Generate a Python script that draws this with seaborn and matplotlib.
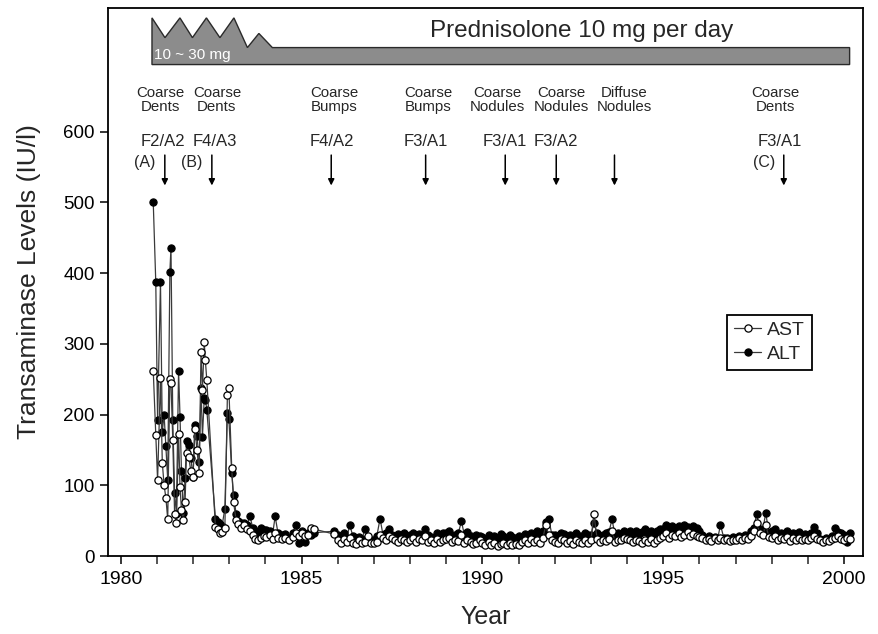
import numpy as np
import pandas as pd
import matplotlib
matplotlib.use("Agg")
import matplotlib.pyplot as plt
import seaborn as sns

# ---------------- data ----------------
years = [
    1980.90, 1980.97, 1981.02, 1981.10, 1981.15, 1981.20, 1981.25, 1981.30, 1981.36, 1981.39,
    1981.44, 1981.49, 1981.54, 1981.60, 1981.64, 1981.68, 1981.73, 1981.78, 1981.82, 1981.88,
    1981.94, 1982.00, 1982.05, 1982.11, 1982.17, 1982.22, 1982.26, 1982.31, 1982.34, 1982.38,
    1982.62, 1982.68, 1982.74, 1982.80, 1982.88, 1982.95, 1982.99, 1983.07, 1983.12, 1983.19,
    1983.25, 1983.33, 1983.42, 1983.50, 1983.57, 1983.65, 1983.72, 1983.80, 1983.88, 1983.95,
    1984.03, 1984.12, 1984.20, 1984.27, 1984.35, 1984.45, 1984.55, 1984.65, 1984.75, 1984.85, 1984.93,
    1985.02, 1985.10, 1985.18, 1985.27, 1985.35, 1985.90,
    1986.00, 1986.08, 1986.17, 1986.25, 1986.33, 1986.42, 1986.50, 1986.58, 1986.67, 1986.75, 1986.83, 1986.92,
    1987.00, 1987.08, 1987.17, 1987.25, 1987.33, 1987.42, 1987.50, 1987.58, 1987.67, 1987.75, 1987.83, 1987.92,
    1988.00, 1988.08, 1988.17, 1988.25, 1988.33, 1988.42, 1988.50, 1988.58, 1988.67, 1988.75, 1988.83, 1988.92,
    1989.00, 1989.08, 1989.17, 1989.25, 1989.33, 1989.42, 1989.50, 1989.58, 1989.67, 1989.75, 1989.83, 1989.92,
    1990.00, 1990.08, 1990.17, 1990.25, 1990.33, 1990.42, 1990.50, 1990.58, 1990.67, 1990.75, 1990.83, 1990.92,
    1991.00, 1991.08, 1991.17, 1991.25, 1991.33, 1991.42, 1991.50, 1991.58, 1991.67, 1991.75, 1991.83, 1991.92,
    1992.00, 1992.08, 1992.17, 1992.25, 1992.33, 1992.42, 1992.50, 1992.58, 1992.67, 1992.75, 1992.83, 1992.92,
    1993.00, 1993.08, 1993.17, 1993.25, 1993.33, 1993.42, 1993.50, 1993.58, 1993.67, 1993.75, 1993.83, 1993.92,
    1994.00, 1994.08, 1994.17, 1994.25, 1994.33, 1994.42, 1994.50, 1994.58, 1994.67, 1994.75, 1994.83, 1994.92,
    1995.00, 1995.08, 1995.17, 1995.25, 1995.33, 1995.42, 1995.50, 1995.58, 1995.67, 1995.75, 1995.83, 1995.92,
    1996.00, 1996.08, 1996.17, 1996.25, 1996.33, 1996.42, 1996.50, 1996.58, 1996.67, 1996.75, 1996.83, 1996.92,
    1997.00, 1997.08, 1997.17, 1997.25, 1997.33, 1997.42, 1997.50, 1997.58, 1997.67, 1997.75, 1997.83, 1997.92,
    1998.00, 1998.08, 1998.17, 1998.25, 1998.33, 1998.42, 1998.50, 1998.58, 1998.67, 1998.75, 1998.83, 1998.92,
    1999.00, 1999.08, 1999.17, 1999.25, 1999.33, 1999.42, 1999.50, 1999.58, 1999.67, 1999.75, 1999.83, 1999.92,
    2000.00, 2000.08, 2000.17,
]

ast = [
    262, 171, 107, 252, 132, 100, 82, 52, 251, 245,
    164, 60, 46, 173, 98, 65, 51, 77, 146, 140,
    120, 112, 180, 150, 118, 289, 235, 302, 277, 249,
    41, 38, 33, 34, 40, 228, 237, 124, 76, 51,
    45, 40, 44, 38, 36, 30, 24, 22, 26, 28,
    27, 30, 24, 32, 25, 24, 26, 22, 27, 32, 28,
    32, 28, 30, 40, 38, 31,
    22, 18, 24, 20, 26, 18, 17, 22, 18, 20, 28, 18,
    18, 20, 30, 25, 22, 28, 25, 22, 20, 24, 22, 20,
    22, 25, 20, 24, 22, 28, 20, 23, 18, 24, 20, 22,
    24, 26, 20, 22, 21, 30, 18, 22, 20, 17, 19, 22,
    18, 15, 20, 16, 18, 14, 17, 19, 15, 18, 16, 17,
    16, 20, 22, 18, 24, 20, 22, 18, 25, 44, 30, 22,
    20, 18, 24, 22, 19, 21, 17, 23, 20, 18, 22, 19,
    22, 60, 24, 20, 22, 21, 24, 35, 20, 23, 22, 25,
    24, 22, 20, 23, 21, 19, 22, 20, 24, 18, 22, 25,
    28, 32, 26, 30, 28, 33, 27, 30, 34, 28, 31, 29,
    27, 25, 22, 24, 21, 25, 23, 26, 22, 24, 21, 23,
    22, 25, 23, 26, 24, 28, 35, 46, 32, 30, 44, 27,
    25, 28, 22, 26, 24, 27, 21, 25, 23, 26, 22, 24,
    22, 25, 28, 24, 22, 20, 23, 21, 24, 26, 28, 24,
    22, 25, 24,
]

alt = [
    500, 387, 192, 387, 176, 200, 155, 108, 402, 436,
    192, 89, 60, 262, 197, 120, 61, 110, 162, 157,
    138, 112, 185, 170, 133, 237, 169, 223, 221, 207,
    53, 48, 45, 42, 67, 202, 194, 118, 86, 60,
    50, 47, 46, 44, 57, 40, 35, 34, 39, 37,
    37, 35, 31, 56, 32, 30, 31, 25, 33, 44, 18,
    35, 20, 33, 30, 33, 35,
    30, 27, 33, 25, 44, 28, 25, 27, 24, 38, 26, 22,
    22, 28, 53, 30, 32, 38, 30, 27, 31, 29, 33, 28,
    30, 32, 28, 31, 29, 38, 30, 27, 25, 33, 30, 32,
    33, 35, 28, 30, 32, 49, 30, 34, 28, 26, 30, 29,
    27, 24, 30, 26, 29, 25, 31, 28, 24, 30, 27, 26,
    28, 25, 31, 27, 33, 30, 35, 31, 36, 48, 53, 30,
    30, 28, 33, 31, 26, 30, 27, 32, 29, 28, 33, 30,
    30, 46, 32, 28, 30, 33, 34, 52, 29, 33, 31, 35,
    33, 35, 30, 36, 31, 34, 38, 33, 36, 30, 35, 38,
    38, 44, 36, 42, 40, 43, 38, 44, 41, 39, 42, 40,
    36, 30, 26, 28, 25, 27, 24, 44, 26, 25, 23, 27,
    26, 28, 24, 30, 27, 35, 40, 59, 38, 36, 61, 33,
    35, 38, 30, 33, 31, 36, 28, 32, 30, 34, 27, 31,
    30, 33, 41, 32, 24, 22, 26, 23, 29, 39, 34, 32,
    30, 20, 32,
]

# biopsy annotations
biopsy_years = [1981.22, 1982.52, 1985.82, 1988.43, 1990.63, 1992.04, 1993.65, 1998.33]
findings = ["Coarse\nDents", "Coarse\nDents", "Coarse\nBumps", "Coarse\nBumps",
            "Coarse\nNodules", "Coarse\nNodules", "Diffuse\nNodules", "Coarse\nDents"]
histology = ["F2/A2", "F4/A3", "F4/A2", "F3/A1", "F3/A1", "F3/A2", "", "F3/A1"]
markers_abc = ["(A)", "(B)", "", "", "", "", "", "(C)"]

x_ticks = [1980, 1985, 1990, 1995, 2000]
y_ticks = [0, 100, 200, 300, 400, 500, 600]

assert len(years) == len(ast) == len(alt)

df = pd.DataFrame({"Year": years, "AST": ast, "ALT": alt})

# ---------------- style ----------------
sns.set_style("ticks")
plt.rcParams["font.family"] = ["Liberation Sans", "DejaVu Sans"]

fig = plt.figure(figsize=(8.79, 6.34), dpi=100)
ax = fig.add_axes([0.1229, 0.1230, 0.8589, 0.8644])

line_col = "#3a3a3a"
sns.lineplot(data=df, x="Year", y="ALT", ax=ax, estimator=None, sort=False,
             color=line_col, lw=0.9, marker="o", markersize=5.2,
             markerfacecolor="black", markeredgecolor="black", markeredgewidth=0.8,
             label="ALT")
sns.lineplot(data=df, x="Year", y="AST", ax=ax, estimator=None, sort=False,
             color=line_col, lw=0.9, marker="o", markersize=5.2,
             markerfacecolor="white", markeredgecolor="black", markeredgewidth=0.9,
             label="AST")

ax.set_xlim(1979.65, 2000.52)
ax.set_ylim(0, 775)
ax.set_xticks(x_ticks)
ax.set_xticks(range(1980, 2001), minor=True)
ax.set_yticks(y_ticks)
ax.tick_params(axis="both", which="major", labelsize=13.5, length=6, width=1.1,
               direction="out", colors="black")
ax.tick_params(axis="x", which="major", labelsize=14)
ax.tick_params(axis="x", which="minor", length=6, width=1.1, direction="out")
ax.tick_params(axis="x", pad=5)
for s in ax.spines.values():
    s.set_visible(True)
    s.set_linewidth(1.3)
    s.set_color("black")
ax.set_xlabel("Year", fontsize=18, labelpad=12)
ax.set_ylabel("Transaminase Levels (IU/l)", fontsize=19, labelpad=16)

# legend (AST first)
h, l = ax.get_legend_handles_labels()
order = [l.index("AST"), l.index("ALT")]
leg = ax.legend([h[i] for i in order], [l[i] for i in order],
                loc="upper left", bbox_to_anchor=(0.82, 0.44), fontsize=14,
                frameon=True, fancybox=False, edgecolor="black", framealpha=1,
                handlelength=1.4, handletextpad=0.3, borderpad=0.35,
                labelspacing=0.3, borderaxespad=0)
leg.get_frame().set_linewidth(1.3)

# ---------------- prednisolone banner ----------------
bx = [1980.865, 1980.865, 1981.224, 1981.638, 1981.983, 1982.370, 1982.743, 1983.13,
      1983.503, 1983.82, 1984.193, 2000.15, 2000.15]
by = [695, 761, 733, 761, 733, 761, 733, 761, 719, 739, 719, 719, 695]
ax.fill(bx, by, facecolor="#8c8c8c", edgecolor="#2a2a2a", lw=1.0, zorder=3)
ax.text(1980.93, 708, "10 ~ 30 mg", color="white", fontsize=11, ha="left",
        va="center", zorder=4)
ax.text(1992.74, 743, "Prednisolone 10 mg per day", fontsize=17.5, ha="center",
        va="center", zorder=4)

# ---------------- biopsy annotations ----------------
text_dx = [-0.11, 0.14, 0.08, 0.07, -0.21, 0.13, 0.28, -0.23]
hist_dx = [-0.06, 0.07, 0.03, 0.01, 0.0, -0.01, 0.0, -0.10]
for bxp, f, hst, m, tdx, hdx in zip(biopsy_years, findings, histology, markers_abc,
                                   text_dx, hist_dx):
    ax.text(bxp + tdx, 645, f, fontsize=10.8, ha="center", va="center",
            linespacing=1.05)
    if hst:
        ax.text(bxp + hdx, 586, hst, fontsize=12, ha="center", va="center")
    if m:
        ax.text(bxp - 0.55, 557, m, fontsize=11.5, ha="center", va="center")
    ax.annotate("", xy=(bxp, 524), xytext=(bxp, 567),
                arrowprops=dict(arrowstyle="-|>", color="black", lw=1.1,
                                mutation_scale=9, shrinkA=0, shrinkB=0))

fig.savefig("out.png", dpi=100)
